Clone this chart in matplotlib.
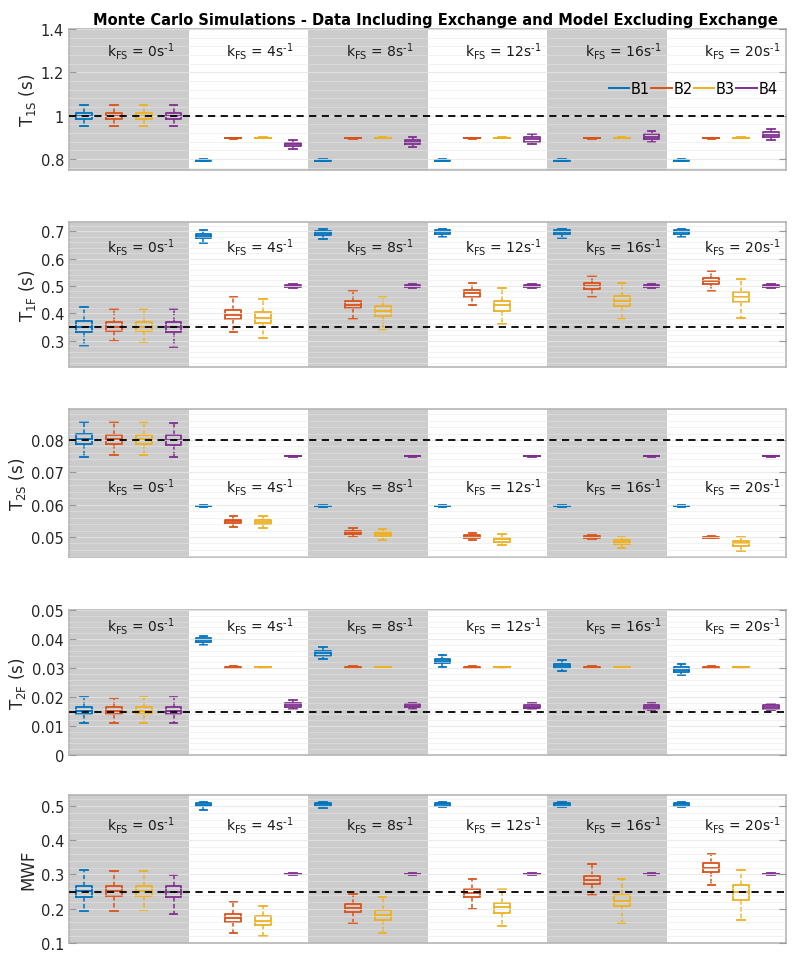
import matplotlib
matplotlib.use("Agg")
import matplotlib.pyplot as plt
from matplotlib.ticker import AutoMinorLocator
from matplotlib.lines import Line2D

# ---------------- data ----------------
k_values = [0, 4, 8, 12, 16, 20]
series = ["B1", "B2", "B3", "B4"]
colors = ["#0072BD", "#D95319", "#EDB120", "#7E2F8E"]

# each row: one k group; each entry: (whislo, q1, med, q3, whishi) for B1..B4
T1S = [
    [(0.953, 0.985, 1.0, 1.015, 1.048), (0.953, 0.985, 1.0, 1.015, 1.048), (0.953, 0.985, 1.0, 1.015, 1.048), (0.953, 0.985, 1.0, 1.015, 1.05)],
    [(0.791, 0.793, 0.795, 0.797, 0.799), (0.895, 0.896, 0.897, 0.898, 0.899), (0.896, 0.897, 0.898, 0.899, 0.900), (0.846, 0.860, 0.868, 0.876, 0.889)],
    [(0.791, 0.793, 0.795, 0.797, 0.799), (0.895, 0.896, 0.897, 0.898, 0.899), (0.896, 0.897, 0.898, 0.899, 0.900), (0.857, 0.870, 0.879, 0.889, 0.903)],
    [(0.791, 0.793, 0.795, 0.797, 0.799), (0.895, 0.896, 0.897, 0.898, 0.899), (0.896, 0.897, 0.898, 0.899, 0.900), (0.868, 0.881, 0.892, 0.904, 0.917)],
    [(0.791, 0.793, 0.795, 0.797, 0.799), (0.895, 0.896, 0.897, 0.898, 0.899), (0.896, 0.897, 0.898, 0.899, 0.900), (0.877, 0.892, 0.903, 0.915, 0.928)],
    [(0.791, 0.793, 0.795, 0.797, 0.799), (0.895, 0.896, 0.897, 0.898, 0.899), (0.896, 0.897, 0.898, 0.899, 0.900), (0.889, 0.902, 0.912, 0.923, 0.937)],
]
T1F = [
    [(0.282, 0.333, 0.352, 0.372, 0.423), (0.298, 0.335, 0.352, 0.370, 0.418), (0.297, 0.335, 0.352, 0.370, 0.418), (0.278, 0.332, 0.350, 0.370, 0.415)],
    [(0.656, 0.673, 0.681, 0.689, 0.703), (0.333, 0.379, 0.396, 0.413, 0.460), (0.312, 0.365, 0.384, 0.404, 0.454), (0.494, 0.497, 0.500, 0.503, 0.506)],
    [(0.671, 0.687, 0.694, 0.701, 0.706), (0.380, 0.419, 0.432, 0.447, 0.482), (0.341, 0.390, 0.408, 0.426, 0.461), (0.494, 0.497, 0.500, 0.503, 0.506)],
    [(0.678, 0.690, 0.697, 0.704, 0.708), (0.431, 0.461, 0.473, 0.485, 0.512), (0.361, 0.410, 0.430, 0.447, 0.492), (0.494, 0.497, 0.500, 0.503, 0.506)],
    [(0.676, 0.690, 0.697, 0.703, 0.708), (0.461, 0.488, 0.500, 0.510, 0.537), (0.379, 0.427, 0.445, 0.464, 0.512), (0.494, 0.497, 0.500, 0.503, 0.506)],
    [(0.678, 0.690, 0.697, 0.703, 0.708), (0.481, 0.508, 0.519, 0.529, 0.555), (0.385, 0.441, 0.461, 0.479, 0.524), (0.494, 0.497, 0.500, 0.503, 0.506)],
]
T2S = [
    [(0.0746, 0.0787, 0.0802, 0.0818, 0.0857), (0.0753, 0.0787, 0.0802, 0.0817, 0.0855), (0.0755, 0.0787, 0.0802, 0.0817, 0.0855), (0.0746, 0.0786, 0.0801, 0.0817, 0.0852)],
    [(0.0594, 0.0595, 0.0596, 0.0597, 0.0598), (0.0530, 0.0542, 0.0548, 0.0554, 0.0565), (0.0529, 0.0539, 0.0546, 0.0551, 0.0565), (0.0749, 0.07495, 0.0750, 0.07505, 0.0751)],
    [(0.0594, 0.0595, 0.0596, 0.0597, 0.0598), (0.0499, 0.0508, 0.0513, 0.0517, 0.0527), (0.0492, 0.0503, 0.0509, 0.0514, 0.0526), (0.0749, 0.07495, 0.0750, 0.07505, 0.0751)],
    [(0.0594, 0.0595, 0.0596, 0.0597, 0.0598), (0.0492, 0.0496, 0.0502, 0.0507, 0.0512), (0.0475, 0.0485, 0.0493, 0.0498, 0.0510), (0.0749, 0.07495, 0.0750, 0.07505, 0.0751)],
    [(0.0594, 0.0595, 0.0596, 0.0597, 0.0598), (0.0495, 0.0497, 0.0500, 0.0503, 0.0505), (0.0466, 0.0478, 0.0485, 0.0490, 0.0501), (0.0749, 0.07495, 0.0750, 0.07505, 0.0751)],
    [(0.0594, 0.0595, 0.0596, 0.0597, 0.0598), (0.0496, 0.0497, 0.0499, 0.0501, 0.0502), (0.0458, 0.0473, 0.0480, 0.0486, 0.0501), (0.0749, 0.07495, 0.0750, 0.07505, 0.0751)],
]
T2F = [
    [(0.0110, 0.0140, 0.0152, 0.0166, 0.0201), (0.0110, 0.0140, 0.0152, 0.0166, 0.0197), (0.0110, 0.0140, 0.0152, 0.0166, 0.0199), (0.0110, 0.0140, 0.0152, 0.0166, 0.0200)],
    [(0.0381, 0.0391, 0.0397, 0.0403, 0.0411), (0.0299, 0.0300, 0.0303, 0.0305, 0.0306), (0.0301, 0.0302, 0.0303, 0.0304, 0.0305), (0.0157, 0.0164, 0.0172, 0.0180, 0.0190)],
    [(0.0332, 0.0343, 0.0351, 0.0359, 0.0372), (0.0299, 0.0300, 0.0303, 0.0305, 0.0306), (0.0301, 0.0302, 0.0303, 0.0304, 0.0305), (0.0160, 0.0164, 0.0169, 0.0175, 0.0181)],
    [(0.0304, 0.0317, 0.0325, 0.0332, 0.0344), (0.0299, 0.0300, 0.0303, 0.0305, 0.0306), (0.0301, 0.0302, 0.0303, 0.0304, 0.0305), (0.0159, 0.0163, 0.0167, 0.0173, 0.0180)],
    [(0.0288, 0.0299, 0.0306, 0.0314, 0.0326), (0.0299, 0.0300, 0.0303, 0.0305, 0.0306), (0.0301, 0.0302, 0.0303, 0.0304, 0.0305), (0.0156, 0.0160, 0.0166, 0.0172, 0.0178)],
    [(0.0275, 0.0287, 0.0294, 0.0302, 0.0313), (0.0299, 0.0300, 0.0303, 0.0305, 0.0306), (0.0301, 0.0302, 0.0303, 0.0304, 0.0305), (0.0155, 0.0159, 0.0165, 0.0171, 0.0176)],
]
MWF = [
    [(0.192, 0.235, 0.251, 0.267, 0.314), (0.194, 0.236, 0.251, 0.266, 0.311), (0.195, 0.236, 0.251, 0.266, 0.311), (0.186, 0.234, 0.250, 0.266, 0.298)],
    [(0.488, 0.500, 0.504, 0.508, 0.512), (0.130, 0.161, 0.173, 0.184, 0.219), (0.120, 0.152, 0.164, 0.178, 0.207), (0.299, 0.300, 0.301, 0.302, 0.303)],
    [(0.494, 0.501, 0.505, 0.508, 0.512), (0.159, 0.190, 0.201, 0.214, 0.242), (0.130, 0.167, 0.182, 0.195, 0.235), (0.299, 0.300, 0.301, 0.302, 0.303)],
    [(0.496, 0.501, 0.505, 0.508, 0.512), (0.200, 0.235, 0.247, 0.258, 0.288), (0.149, 0.188, 0.204, 0.217, 0.259), (0.299, 0.300, 0.301, 0.302, 0.303)],
    [(0.496, 0.501, 0.505, 0.508, 0.511), (0.241, 0.272, 0.284, 0.296, 0.331), (0.159, 0.208, 0.223, 0.241, 0.288), (0.299, 0.300, 0.301, 0.302, 0.303)],
    [(0.496, 0.501, 0.505, 0.508, 0.512), (0.269, 0.306, 0.320, 0.333, 0.359), (0.166, 0.226, 0.248, 0.270, 0.314), (0.299, 0.300, 0.301, 0.302, 0.303)],
]

ylabels = ["T$_{\\mathrm{1S}}$ (s)", "T$_{\\mathrm{1F}}$ (s)", "T$_{\\mathrm{2S}}$ (s)",
           "T$_{\\mathrm{2F}}$ (s)", "MWF"]
ref_values = [1.0, 0.35, 0.08, 0.015, 0.25]
ylims = [(0.75, 1.4), (0.205, 0.733), (0.0438, 0.0896), (0.0, 0.05), (0.1, 0.532)]
yticks = [[0.8, 1.0, 1.2, 1.4], [0.3, 0.4, 0.5, 0.6, 0.7], [0.05, 0.06, 0.07, 0.08],
          [0, 0.01, 0.02, 0.03, 0.04, 0.05], [0.1, 0.2, 0.3, 0.4, 0.5]]
yticklabels = [["0.8", "1", "1.2", "1.4"], ["0.3", "0.4", "0.5", "0.6", "0.7"],
               ["0.05", "0.06", "0.07", "0.08"], ["0", "0.01", "0.02", "0.03", "0.04", "0.05"],
               ["0.1", "0.2", "0.3", "0.4", "0.5"]]
label_y = [1.30, 0.642, 0.0655, 0.0448, 0.447]
panels = [T1S, T1F, T2S, T2F, MWF]

# ---------------- figure ----------------
W, H = 800, 962
fig = plt.figure(figsize=(W / 100, H / 100), dpi=100)
plt.rcParams["font.family"] = ["DejaVu Sans"]

px_boxes = [(30, 171), (223, 368), (410, 558), (611, 756), (796, 944)]
left_px, right_px = 69, 786

for pi, data in enumerate(panels):
    t, b = px_boxes[pi]
    ax = fig.add_axes([left_px / W, 1 - b / H, (right_px - left_px) / W, (b - t) / H])
    ax.set_xlim(0, 24)
    ax.set_ylim(*ylims[pi])
    for g in range(len(k_values)):
        if g % 2 == 0:
            ax.axvspan(g * 4, g * 4 + 4, color="#cccccc", zorder=0, lw=0)
    # grid
    ax.yaxis.set_minor_locator(AutoMinorLocator(5))
    ax.grid(True, which="major", axis="y", color="#e6e6e6", lw=0.8, zorder=0.5, alpha=0.8)
    ax.grid(True, which="minor", axis="y", color="#e6e6e6", lw=0.6, zorder=0.5, alpha=0.6)
    ax.set_axisbelow(False)
    for g, row in enumerate(data):
        for s, st in enumerate(row):
            wl, q1, med, q3, wh = st
            stats = [dict(whislo=wl, q1=q1, med=med, q3=q3, whishi=wh, fliers=[])]
            c = colors[s]
            ax.bxp(stats, positions=[g * 4 + s + 0.5], widths=0.53, capwidths=0.25,
                   showfliers=False, manage_ticks=False,
                   boxprops=dict(color=c, lw=1.3),
                   medianprops=dict(color=c, lw=1.3),
                   whiskerprops=dict(color=c, lw=1.1, linestyle=(0, (3, 1.5))),
                   capprops=dict(color=c, lw=1.3))
        ax.text(g * 4 + 1.27, label_y[pi],
                f"k$_{{\\mathrm{{FS}}}}$ = {k_values[g]}s$^{{\\text{{-1}}}}$",
                fontsize=10, ha="left", va="center", color="#1a1a1a", zorder=4)
    ax.axhline(ref_values[pi], color="black", ls=(0, (4, 3)), lw=1.3, zorder=5)
    ax.set_yticks(yticks[pi])
    ax.set_yticklabels(yticklabels[pi], fontsize=10.5, color="#262626")
    ax.set_xticks([])
    ax.tick_params(axis="y", which="major", direction="in", length=5, right=True,
                   color="#999999", width=0.8)
    ax.tick_params(axis="y", which="minor", length=0)
    for sp in ax.spines.values():
        sp.set_color("#b5b5b5")
        sp.set_linewidth(1.2)
    ax.set_ylabel(ylabels[pi], fontsize=12, color="#262626", labelpad=2)
    if pi == 0:
        handles = [Line2D([], [], color=c, lw=1.4) for c in colors]
        ax.legend(handles, series, loc="center right", bbox_to_anchor=(1.0, 0.575),
                  ncol=4, frameon=False, fontsize=10.5, handlelength=1.4,
                  handletextpad=0.1, columnspacing=0.1, borderaxespad=0.2)

fig.text((left_px + right_px) / 2 / W + 0.01, 1 - 20 / H,
         "Monte Carlo Simulations - Data Including Exchange and Model Excluding Exchange",
         ha="center", va="center", fontsize=10.5, fontweight="bold")

fig.savefig("out.png", dpi=100)
